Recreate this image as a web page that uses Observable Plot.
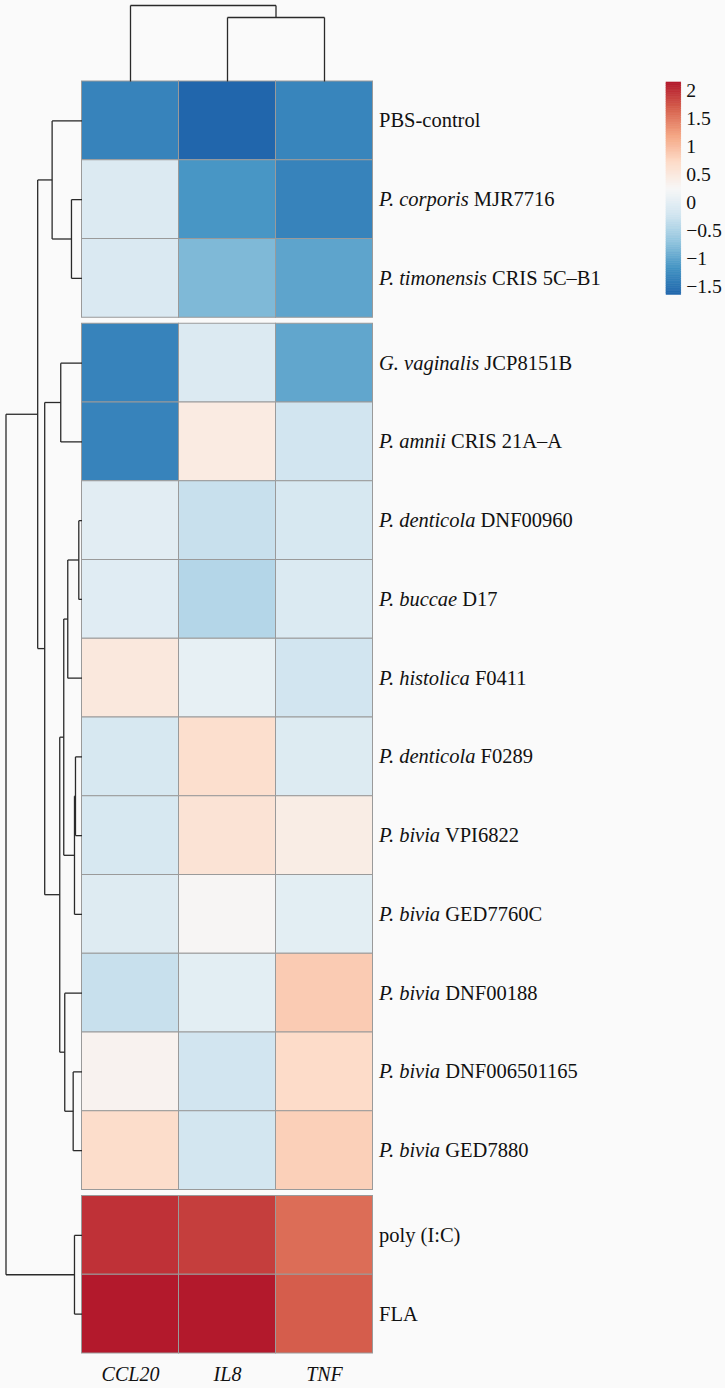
<!DOCTYPE html>
<html><head><meta charset="utf-8">
<script src="https://cdn.jsdelivr.net/npm/d3@7"></script>
<script src="https://cdn.jsdelivr.net/npm/@observablehq/plot@0.6"></script>
<style>
body{margin:0;background:#fafafa;}
#wrap{position:relative;width:725px;height:1388px;overflow:hidden;}
#main{position:absolute;left:0;top:0;}
#legend{position:absolute;left:666px;top:82px;}
svg{overflow:visible;background:transparent;}
</style></head><body><div id="wrap"><div id="main"></div><div id="legend"></div></div>
<script>
// ---------- data ----------
const genes = ["CCL20", "IL8", "TNF"];
const rowSpecies = ["", "P. corporis", "P. timonensis", "G. vaginalis", "P. amnii", "P. denticola", "P. buccae",
  "P. histolica", "P. denticola", "P. bivia", "P. bivia", "P. bivia", "P. bivia", "P. bivia", "", ""];
const rowStrain = ["PBS-control", "MJR7716", "CRIS 5C–B1", "JCP8151B", "CRIS 21A–A", "DNF00960", "D17",
  "F0411", "F0289", "VPI6822", "GED7760C", "DNF00188", "DNF006501165", "GED7880", "poly (I:C)", "FLA"];
const rowGroup = [0, 0, 0, 1, 1, 1, 1, 1, 1, 1, 1, 1, 1, 1, 2, 2];
const valCCL20 = [-1.35, -0.09, -0.12, -1.35, -1.35, -0.02, -0.04, 0.50, -0.15, -0.15, -0.07, -0.30, 0.33, 0.68, 1.98, 2.14];
const valIL8   = [-1.65, -1.15, -0.82, -0.09, 0.45, -0.30, -0.45, 0.05, 0.65, 0.58, 0.28, 0.00, -0.22, -0.20, 1.90, 2.14];
const valTNF   = [-1.33, -1.35, -1.02, -1.00, -0.22, -0.15, -0.10, -0.22, -0.08, 0.42, 0.00, 0.86, 0.70, 0.82, 1.58, 1.69];
// hclust-style merges: negative = leaf (1-based display order), positive = earlier merge (1-based)
const rowMerges = [
  [-6, -7, 0.32], [-9, -10, 0.65], [-15, -16, 0.75], [2, -11, 0.75], [-13, -14, 0.88],
  [-2, -3, 1.05], [1, -8, 1.42], [-12, 5, 1.72], [7, 4, 1.82], [-4, -5, 2.12],
  [9, 8, 2.22], [-1, 6, 2.98], [10, 11, 3.72], [12, 13, 4.42], [14, 3, 7.58]
];
const colMerges = [[-2, -3, 6.4], [-1, 1, 7.6]];
const legendTicks = [-1.5, -1, -0.5, 0, 0.5, 1, 1.5, 2];
const colorDomain = [-1.655, 2.148];
const palette = ["#2166AC", "#4393C3", "#92C5DE", "#D1E5F0", "#F7F7F7", "#FDDBC7", "#F4A582", "#D6604D", "#B2182B"];

// ---------- layout ----------
const W = 725, H = 1388;
const mL = 81.5, mR = 352.5, mT = 81, mB = 35;
const gapU = 6 / 78.75;
const nRows = rowStrain.length;
const totalY = nRows + 2 * gapU;
const xUnitPx = (W - mL - mR) / genes.length;
const yUnitPx = (H - mT - mB) / totalY;
const treePx = 76;

const rowTop = i => i + rowGroup[i] * gapU;
const rowCenter = rowStrain.map((_, i) => rowTop(i) + 0.5);
const colCenter = genes.map((_, j) => j + 0.5);
const values = [valCCL20, valIL8, valTNF];
const cells = rowStrain.flatMap((_, i) => genes.map((g, j) => ({i, j, v: values[j][i]})));
const fullLabel = rowStrain.map((s, i) => (rowSpecies[i] ? rowSpecies[i] + " " : "") + s);

function dendro(merges, leafPos) {
  const pos = [], ht = [], segs = [];
  const get = k => k < 0 ? {p: leafPos[-k - 1], h: 0} : {p: pos[k - 1], h: ht[k - 1]};
  merges.forEach(([a, b, h], i) => {
    const A = get(a), B = get(b);
    segs.push({p1: A.p, p2: B.p, h1: h, h2: h});
    segs.push({p1: A.p, p2: A.p, h1: A.h, h2: h});
    segs.push({p1: B.p, p2: B.p, h1: B.h, h2: h});
    pos[i] = (A.p + B.p) / 2; ht[i] = h;
  });
  return segs;
}
const rowSegs = dendro(rowMerges, rowCenter);
const colSegs = dendro(colMerges, colCenter);
const kx = (treePx / xUnitPx) / d3.max(rowMerges, d => d[2]);
const ky = (treePx / yUnitPx) / d3.max(colMerges, d => d[2]);

const colorScale = {type: "linear", domain: colorDomain, interpolate: d3.piecewise(d3.interpolateRgb, palette)};
const font = "'Liberation Serif', 'DejaVu Serif', serif";
const lineColor = "#2a2a2a";

const main = Plot.plot({
  width: W, height: H,
  marginLeft: mL, marginRight: mR, marginTop: mT, marginBottom: mB,
  x: {domain: [0, genes.length], axis: null},
  y: {domain: [0, totalY], reverse: true, axis: null},
  color: colorScale,
  style: {fontFamily: font, background: "transparent", color: "#111"},
  marks: [
    Plot.rect(cells, {x1: d => d.j, x2: d => d.j + 1, y1: d => rowTop(d.i), y2: d => rowTop(d.i) + 1,
      fill: "v", stroke: "#9a9a9a", strokeWidth: 1}),
    Plot.link(rowSegs, {x1: d => -d.h1 * kx, x2: d => -d.h2 * kx, y1: "p1", y2: "p2",
      stroke: lineColor, strokeWidth: 1.3}),
    Plot.link(colSegs, {x1: "p1", x2: "p2", y1: d => -d.h1 * ky, y2: d => -d.h2 * ky,
      stroke: lineColor, strokeWidth: 1.3}),
    Plot.text(fullLabel, {x: () => genes.length, y: (d, i) => rowCenter[i], text: d => d,
      textAnchor: "start", dx: 6, fontSize: 20.5, fill: "#111"}),
    Plot.text(genes, {x: (d, j) => colCenter[j], y: () => totalY, text: d => d, dy: 21.5,
      fontSize: 20, fontStyle: "italic", fill: "#111"})
  ]
});

// italicise the genus/species part of each row label
d3.select(main).selectAll("text").each(function () {
  const i = fullLabel.indexOf(this.textContent);
  if (i < 0 || !rowSpecies[i]) return;
  const t = d3.select(this);
  t.style("white-space", "pre").text(null);
  t.append("tspan").attr("font-style", "italic").text(rowSpecies[i]);
  t.append("tspan").text(" " + rowStrain[i]);
});
document.getElementById("main").append(main);

// ---------- legend ----------
const nSteps = 120;
const step = (colorDomain[1] - colorDomain[0]) / nSteps;
const legSteps = d3.range(nSteps).map(i => colorDomain[0] + i * step);
const legend = Plot.plot({
  width: 60, height: 216,
  marginTop: 0, marginBottom: 0, marginLeft: 0, marginRight: 45,
  x: {domain: [0, 1], axis: null},
  y: {domain: colorDomain, axis: null},
  color: colorScale,
  style: {fontFamily: font, background: "transparent", color: "#111", fontSize: "20px"},
  marks: [
    Plot.rect(legSteps, {x1: () => 0, x2: () => 1, y1: d => d, y2: d => d + step,
      fill: d => d + step / 2, stroke: d => d + step / 2, strokeWidth: 0.6}),
    Plot.axisY(legendTicks, {anchor: "right", tickSize: 0, tickPadding: 5, fontSize: 20,
      tickFormat: d => d < 0 ? "\u2212" + Math.abs(d) : String(d)})
  ]
});
d3.select(legend).selectAll("text").style("font-size", "20px").attr("fill", "#111");
document.getElementById("legend").append(legend);
</script></body></html>
